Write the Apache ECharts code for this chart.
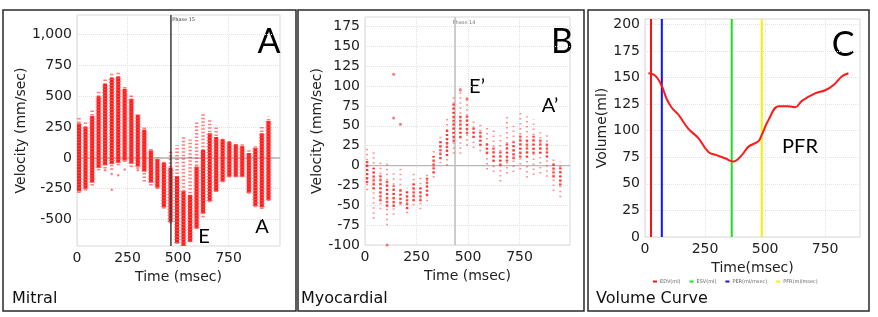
<!DOCTYPE html>
<html>
<head>
<meta charset="utf-8">
<script src="https://cdn.jsdelivr.net/npm/echarts@6/dist/echarts.min.js"></script>
<style>
  html, body { margin: 0; padding: 0; background: #fff; }
  #chart { width: 878px; height: 317px; }
</style>
</head>
<body>
<div id="chart"></div>
<script>
  // frame times shared by both velocity panels (msec)
  const frameTimes = [10, 42, 75, 107, 139, 172, 204, 236, 269, 301, 333, 366, 398, 430, 463,
    495, 527, 560, 592, 624, 657, 689, 721, 754, 786, 818, 851, 883, 915, 948]

  // Mitral velocity (mm/sec): sparse extent and dense core per frame
  const mitralMax = [335, 293, 388, 551, 638, 693, 701, 584, 511, 367, 247, 76, 8, -19, 62,
    103, 171, 149, 290, 361, 313, 266, 171, 144, 130, 111, 62, 103, 253, 334]
  const mitralHigh = [280, 250, 340, 500, 600, 650, 660, 560, 480, 350, 230, 60, -10, -40, -80,
    -150, -270, -300, -70, 65, 200, 170, 150, 130, 110, 95, 40, 80, 200, 300]
  const mitralLow = [-270, -250, -200, -80, -60, -50, -40, -20, -45, -70, -110, -200, -240, -400, -520,
    -690, -715, -680, -570, -450, -350, -270, -190, -150, -150, -150, -280, -390, -400, -340]
  const mitralMin = [-285, -264, -223, -100, -85, -97, -60, -33, -73, -87, -192, -223, -252, -413, -531,
    -698, -725, -685, -577, -482, -360, -277, -198, -160, -157, -157, -290, -400, -415, -350]
  const mitralOutliers = [[172, -258], [172, -130], [204, -141], [236, -95], [139, -100], [301, -100]]
  const mitralPhase = 465

  // Myocardial velocity (mm/sec)
  const myoMax = [21, 18, 7, 7, -8, -2, -28, -10, -15, -8, 22, 38, 60, 90, 98,
    85, 60, 55, 48, 45, 38, 65, 50, 68, 62, 58, 42, 38, 12, 5]
  const myoHigh = [8, -3, -10, -18, -25, -30, -32, -20, -25, -15, 12, 32, 45, 80, 65,
    65, 50, 45, 30, 25, 20, 30, 30, 40, 35, 40, 35, 30, 5, 0]
  const myoLow = [-22, -30, -45, -52, -52, -48, -55, -45, -45, -38, -10, 8, 12, 30, 35,
    40, 35, 25, 15, 5, 0, 5, 8, 10, 10, 15, 15, 10, -15, -25]
  const myoMin = [-31, -67, -55, -75, -62, -50, -60, -50, -55, -45, -15, 3, 0, 15, 15,
    25, 22, 18, -5, -8, -20, -10, -8, -5, -15, -12, -10, -14, -32, -40]
  const myoOutliers = [[139, 115], [139, 60], [172, 52], [107, -100], [463, 95], [495, 84]]
  const myoPhase = 437

  // Volume curve (ml)
  const volTime = [14, 35, 50, 70, 90, 110, 139, 180, 222, 264, 298, 333, 368, 403, 431, 472, 486,
    514, 556, 597, 625, 653, 708, 750, 785, 819, 847]
  const volValue = [154, 153, 150, 142, 130, 122, 115, 102, 93, 80, 77, 74, 71, 77, 85, 90, 96,
    110, 123, 123, 122, 128, 135, 138, 143, 151, 154]
  const markerNames = ['EDV(ml)', 'ESV(ml)', 'PER(ml/msec)', 'PFR(ml/msec)']
  const markerTimes = [25, 361, 70, 486]
  const markerColors = ['#ff1010', '#22dd22', '#1010ff', '#f2f200']

  const velTicksA = [-500, -250, 0, 250, 500, 750, 1000]
  const velTicksB = [-100, -75, -50, -25, 0, 25, 50, 75, 100, 125, 150, 175]
  const volTicks = [0, 25, 50, 75, 100, 125, 150, 175, 200]
  const timeTicks = [0, 250, 500, 750]

  const font = 'DejaVu Sans'
  const txt = '#222'

  function axis(gridIndex, min, max, ticks, name, nameGap) {
    return {
      gridIndex, type: 'value', min, max,
      name, nameLocation: 'middle', nameGap,
      nameTextStyle: { fontFamily: font, fontSize: 14, color: txt },
      axisLine: { show: false },
      axisTick: { show: false, customValues: ticks },
      axisLabel: { customValues: ticks, fontFamily: font, fontSize: 14, color: txt, margin: 5 },
      splitLine: { show: true, lineStyle: { color: '#e2e2e2', type: 'dotted' } }
    }
  }

  function rangeSeries(idx, times, lo, hi, style, asRect, width) {
    return {
      type: 'custom', xAxisIndex: idx, yAxisIndex: idx, clip: true, silent: true,
      data: times.map((t, i) => [t, lo[i], hi[i]]),
      encode: { x: 0, y: [1, 2] },
      renderItem(params, api) {
        const p1 = api.coord([api.value(0), api.value(1)])
        const p2 = api.coord([api.value(0), api.value(2)])
        if (asRect) {
          return {
            type: 'rect',
            shape: { x: p1[0] - width / 2, y: p2[1], width, height: p1[1] - p2[1] },
            style: style
          }
        }
        return {
          type: 'line',
          shape: { x1: p1[0], y1: p1[1], x2: p2[0], y2: p2[1] },
          style: style
        }
      }
    }
  }

  function straight(idx, data, color, width, z) {
    return {
      type: 'line', xAxisIndex: idx, yAxisIndex: idx, data, symbol: 'none', silent: true, z,
      lineStyle: { color, width }
    }
  }

  const chart = echarts.init(document.getElementById('chart'), null, { renderer: 'canvas' })

  const series = [
    straight(0, [[0, 0], [1005, 0]], '#b0b0b0', 1.5, 1),
    rangeSeries(0, frameTimes, mitralMin, mitralMax,
      { stroke: 'rgba(255,20,20,0.55)', lineWidth: 3.5, lineDash: [1.5, 2] }),
    rangeSeries(0, frameTimes, mitralLow, mitralHigh, { fill: '#ff1a1a' }, true, 4),
    rangeSeries(0, frameTimes, mitralLow, mitralHigh,
      { stroke: 'rgba(255,90,90,0.7)', lineWidth: 6, lineDash: [1, 2] }),
    {
      type: 'scatter', xAxisIndex: 0, yAxisIndex: 0, data: mitralOutliers, symbolSize: 2.5,
      itemStyle: { color: 'rgba(255,30,30,0.7)' }, silent: true
    },
    straight(0, [[mitralPhase, -715], [mitralPhase, 1160]], '#3a3a3a', 1.5, 5),

    straight(1, [[0, 0], [995, 0]], '#b8b8b8', 1.2, 1),
    straight(1, [[myoPhase, -100], [myoPhase, 187]], '#bdbdbd', 1.5, 1),
    rangeSeries(1, frameTimes, myoMin, myoMax,
      { stroke: 'rgba(255,40,40,0.5)', lineWidth: 2, lineDash: [1.5, 3.5] }),
    rangeSeries(1, frameTimes, myoLow, myoHigh,
      { stroke: 'rgba(255,20,20,0.8)', lineWidth: 2.5, lineDash: [2, 2] }),
    {
      type: 'scatter', xAxisIndex: 1, yAxisIndex: 1, data: myoOutliers, symbolSize: 3,
      itemStyle: { color: 'rgba(255,30,30,0.75)' }, silent: true
    },

    {
      type: 'line', xAxisIndex: 2, yAxisIndex: 2, symbol: 'none', smooth: 0.4, silent: true, z: 4,
      data: volTime.map((t, i) => [t, volValue[i]]),
      lineStyle: { color: '#ff1a1a', width: 2 }
    }
  ]
  markerNames.forEach((n, i) => {
    series.push({
      name: n, type: 'line', xAxisIndex: 2, yAxisIndex: 2, symbol: 'none', silent: true, z: 3,
      data: [[markerTimes[i], 0], [markerTimes[i], 205]],
      itemStyle: { color: markerColors[i] },
      lineStyle: { color: markerColors[i], width: 2 }
    })
  })

  function label(text, x, y, size) {
    return {
      type: 'text', x, y, silent: true,
      style: { text, fontFamily: 'Lato', fontSize: size, fill: '#000', align: 'center', verticalAlign: 'middle' }
    }
  }

  function note(text, x, y, size, color, family, align) {
    return {
      type: 'text', x, y, silent: true,
      style: { text, fontFamily: family, fontSize: size, fill: color, align, verticalAlign: 'middle' }
    }
  }

  function box(x, y, w, h) {
    return { type: 'rect', shape: { x, y, width: w, height: h }, silent: true,
      style: { fill: 'none', stroke: '#2a2a2a', lineWidth: 1.5 } }
  }

  chart.setOption({
    animation: false,
    backgroundColor: '#fff',
    grid: [
      { left: 77, top: 15, width: 203, height: 231, show: true, borderColor: '#d8d8d8', borderWidth: 1 },
      { left: 365, top: 17, width: 205, height: 228, show: true, borderColor: '#d8d8d8', borderWidth: 1 },
      { left: 645, top: 19, width: 215, height: 218, show: true, borderColor: '#d8d8d8', borderWidth: 1 }
    ],
    xAxis: [
      axis(0, 0, 1005, timeTicks, 'Time (msec)', 21),
      axis(1, 0, 995, timeTicks, 'Time (msec)', 21),
      axis(2, 0, 895, timeTicks, 'Time(msec)', 21)
    ],
    yAxis: [
      axis(0, -715, 1160, velTicksA, 'Velocity (mm/sec)', 46),
      axis(1, -100, 187, velTicksB, 'Velocity (mm/sec)', 41),
      axis(2, 0, 205, volTicks, 'Volume(ml)', 33)
    ],
    legend: {
      data: markerNames, left: 648, top: 274, icon: 'rect', itemWidth: 4, itemHeight: 2, itemGap: 9,
      selectedMode: false,
      textStyle: { fontSize: 5, color: '#666', fontFamily: font, padding: [0, 0, 0, -2] }
    },
    graphic: [
      box(3, 10, 293, 301),
      box(298, 10, 286, 301),
      box(588, 10, 281, 301),
      label('A', 269, 42, 34),
      label('E', 204, 237, 20),
      label('A', 262, 227, 20),
      label('B', 562, 42, 34),
      label('E\u2019', 477, 87, 20),
      label('A\u2019', 550, 106, 20),
      label('C', 843, 45, 34),
      label('PFR', 800, 147, 20),
      note('Phase 15', 172, 20, 5, '#333', 'DejaVu Serif', 'left'),
      note('Phase 14', 464, 23, 5, '#777', font, 'center'),
      note('Mitral', 12, 299, 16, '#111', font, 'left'),
      note('Myocardial', 301, 299, 16, '#111', font, 'left'),
      note('Volume Curve', 596, 299, 16, '#111', font, 'left')
    ],
    series
  })
</script>
</body>
</html>
